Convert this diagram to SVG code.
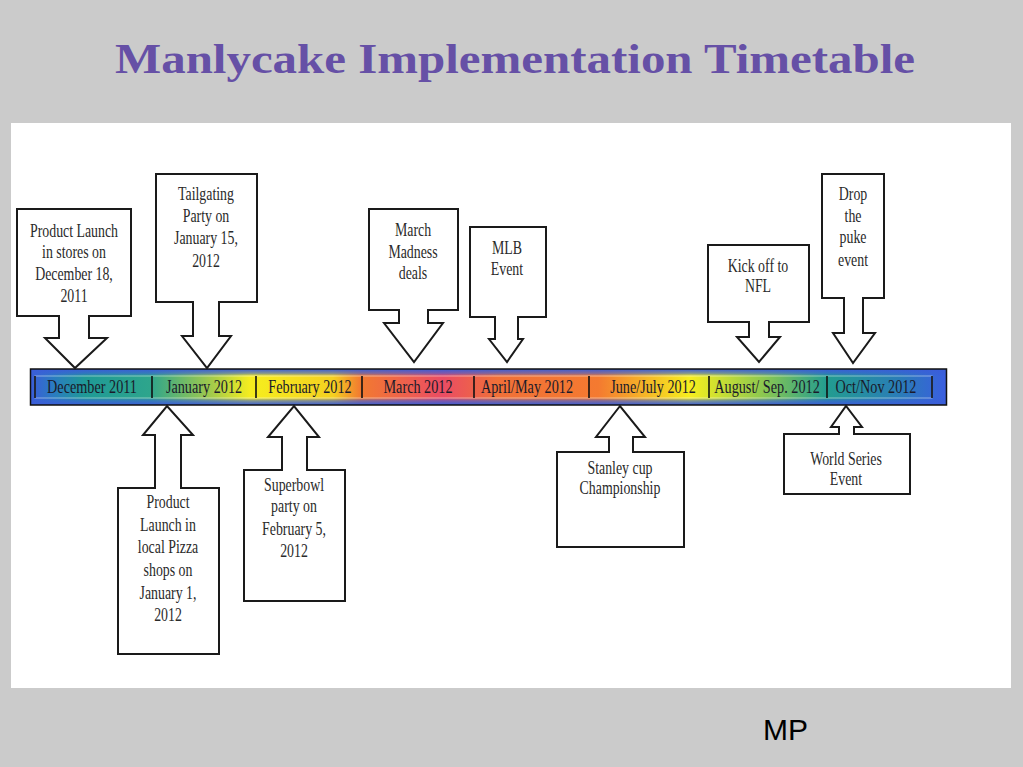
<svg xmlns="http://www.w3.org/2000/svg" width="1023" height="767" viewBox="0 0 1023 767">
<style>
.co{fill:#fff;stroke:#1a1a1a;stroke-width:2;stroke-linejoin:miter}
.ct{font-family:"Liberation Serif","Times New Roman",serif;font-size:18px;fill:#2a2a2a;text-anchor:middle}
.bl{font-family:"Liberation Serif","Times New Roman",serif;font-size:18px;fill:#1a1a2a;text-anchor:middle}
.dv{stroke:#111;stroke-width:1.6}
</style>
<defs>
<linearGradient id="hg" x1="31" y1="0" x2="946" y2="0" gradientUnits="userSpaceOnUse">
<stop offset="0" stop-color="#3a5ed8"/>
<stop offset="0.025" stop-color="#2a7cc0"/>
<stop offset="0.06" stop-color="#1f9a96"/>
<stop offset="0.13" stop-color="#2ea58c"/>
<stop offset="0.2" stop-color="#a8cc48"/>
<stop offset="0.24" stop-color="#f6ee1e"/>
<stop offset="0.33" stop-color="#f4d020"/>
<stop offset="0.36" stop-color="#f27a30"/>
<stop offset="0.45" stop-color="#ea4c64"/>
<stop offset="0.51" stop-color="#f07038"/>
<stop offset="0.62" stop-color="#f47a30"/>
<stop offset="0.72" stop-color="#f6ee1e"/>
<stop offset="0.8" stop-color="#8cc850"/>
<stop offset="0.87" stop-color="#229c90"/>
<stop offset="0.95" stop-color="#2a7cb8"/>
<stop offset="1" stop-color="#3a5ee0"/>
</linearGradient>
<linearGradient id="vg" x1="0" y1="369" x2="0" y2="405" gradientUnits="userSpaceOnUse">
<stop offset="0" stop-color="#3a5ed8" stop-opacity="1"/>
<stop offset="0.12" stop-color="#3a5ed8" stop-opacity="0.6"/>
<stop offset="0.2" stop-color="#3a5ed8" stop-opacity="0"/>
<stop offset="0.8" stop-color="#3a5ed8" stop-opacity="0"/>
<stop offset="0.88" stop-color="#3a5ed8" stop-opacity="0.6"/>
<stop offset="1" stop-color="#3a5ed8" stop-opacity="1"/>
</linearGradient>
</defs>
<rect x="0" y="0" width="1023" height="767" fill="#cbcbcb"/>
<text x="515" y="73" text-anchor="middle" textLength="800" lengthAdjust="spacingAndGlyphs" font-family="'Liberation Serif','Times New Roman',serif" font-weight="bold" font-size="42" fill="#6650a6">Manlycake Implementation Timetable</text>
<rect x="11" y="123" width="1000" height="565" fill="#fff"/>
<text x="763" y="740" font-family="'Liberation Sans',Arial,sans-serif" font-size="30" fill="#000">MP</text>

<g id="connectors">
<g id="timeline">
<rect x="30.5" y="369" width="916" height="36" fill="#3a5ed8" stroke="#111" stroke-width="1.5"/>
<rect x="32" y="370" width="913" height="34" fill="url(#hg)"/>
<rect x="32" y="370" width="913" height="34" fill="url(#vg)"/>
<rect x="35" y="376" width="897" height="22" fill="none" stroke="#fff" stroke-opacity="0.45" stroke-width="1"/>
<line class="dv" x1="35" y1="376" x2="35" y2="398"/>
<line class="dv" x1="152" y1="376" x2="152" y2="398"/>
<line class="dv" x1="256" y1="376" x2="256" y2="398"/>
<line class="dv" x1="362" y1="376" x2="362" y2="398"/>
<line class="dv" x1="474" y1="376" x2="474" y2="398"/>
<line class="dv" x1="589" y1="376" x2="589" y2="398"/>
<line class="dv" x1="709" y1="376" x2="709" y2="398"/>
<line class="dv" x1="827" y1="376" x2="827" y2="398"/>
<line class="dv" x1="932" y1="376" x2="932" y2="398"/>
<text class="bl" transform="translate(92,393) scale(0.79 1)">December 2011</text>
<text class="bl" transform="translate(204,393) scale(0.79 1)">January 2012</text>
<text class="bl" transform="translate(310,393) scale(0.79 1)">February 2012</text>
<text class="bl" transform="translate(418,393) scale(0.79 1)">March 2012</text>
<text class="bl" transform="translate(527,393) scale(0.79 1)">April/May 2012</text>
<text class="bl" transform="translate(653,393) scale(0.79 1)">June/July 2012</text>
<text class="bl" transform="translate(767,393) scale(0.79 1)">August/ Sep. 2012</text>
<text class="bl" transform="translate(876,393) scale(0.79 1)">Oct/Nov 2012</text>
</g>
</g>

<g id="n1">
<path class="co" d="M17 209 H131 V316 H89 V338 H107 L75 368 L45 338 H59 V316 H17 Z"/>
<text class="ct" transform="translate(74,0) scale(0.77 1)"><tspan x="0" y="237">Product Launch</tspan><tspan x="0" y="258">in stores on</tspan><tspan x="0" y="280">December 18,</tspan><tspan x="0" y="302">2011</tspan></text>
</g>
<g id="n2">
<path class="co" d="M156 174 H257 V302 H219 V336 H231 L207 368 L182 336 H193 V302 H156 Z"/>
<text class="ct" transform="translate(206,0) scale(0.77 1)"><tspan x="0" y="200">Tailgating</tspan><tspan x="0" y="222">Party on</tspan><tspan x="0" y="244">January 15,</tspan><tspan x="0" y="267">2012</tspan></text>
</g>
<g id="n3">
<path class="co" d="M369 209 H458 V310 H428 V323 H443 L414 362 L384 323 H399 V310 H369 Z"/>
<text class="ct" transform="translate(413,0) scale(0.77 1)"><tspan x="0" y="236">March</tspan><tspan x="0" y="258">Madness</tspan><tspan x="0" y="279">deals</tspan></text>
</g>
<g id="n4">
<path class="co" d="M470 227 H546 V317 H518 V339 H523 L507 362 L489 339 H495 V317 H470 Z"/>
<text class="ct" transform="translate(507,0) scale(0.77 1)"><tspan x="0" y="254">MLB</tspan><tspan x="0" y="275">Event</tspan></text>
</g>
<g id="n5">
<path class="co" d="M708 245 H809 V322 H769 V337 H780 L759 362 L737 337 H749 V322 H708 Z"/>
<text class="ct" transform="translate(758,0) scale(0.77 1)"><tspan x="0" y="272">Kick off to</tspan><tspan x="0" y="292">NFL</tspan></text>
</g>
<g id="n6">
<path class="co" d="M822 174 H884 V298 H863 V333 H875 L853 363 L833 333 H844 V298 H822 Z"/>
<text class="ct" transform="translate(853,0) scale(0.77 1)"><tspan x="0" y="200">Drop</tspan><tspan x="0" y="222">the</tspan><tspan x="0" y="243">puke</tspan><tspan x="0" y="266">event</tspan></text>
</g>
<g id="n7">
<path class="co" d="M118 488 H155 V435 H143 L167 406 L193 435 H181 V488 H219 V654 H118 Z"/>
<text class="ct" transform="translate(168,0) scale(0.77 1)"><tspan x="0" y="508">Product</tspan><tspan x="0" y="531">Launch in</tspan><tspan x="0" y="553">local Pizza</tspan><tspan x="0" y="576">shops on</tspan><tspan x="0" y="599">January 1,</tspan><tspan x="0" y="621">2012</tspan></text>
</g>
<g id="n8">
<path class="co" d="M244 470 H282 V437 H268 L294 406 L319 437 H307 V470 H345 V601 H244 Z"/>
<text class="ct" transform="translate(294,0) scale(0.77 1)"><tspan x="0" y="491">Superbowl</tspan><tspan x="0" y="512">party on</tspan><tspan x="0" y="535">February 5,</tspan><tspan x="0" y="557">2012</tspan></text>
</g>
<g id="n9">
<path class="co" d="M557 452 H609 V437 H596 L620 406 L645 437 H633 V452 H684 V547 H557 Z"/>
<text class="ct" transform="translate(620,0) scale(0.77 1)"><tspan x="0" y="474">Stanley cup</tspan><tspan x="0" y="494">Championship</tspan></text>
</g>
<g id="n10">
<path class="co" d="M784 434 H839 V427 H831 L846 406 L862 427 H854 V434 H910 V494 H784 Z"/>
<text class="ct" transform="translate(846,0) scale(0.77 1)"><tspan x="0" y="465">World Series</tspan><tspan x="0" y="485">Event</tspan></text>
</g>
</svg>
